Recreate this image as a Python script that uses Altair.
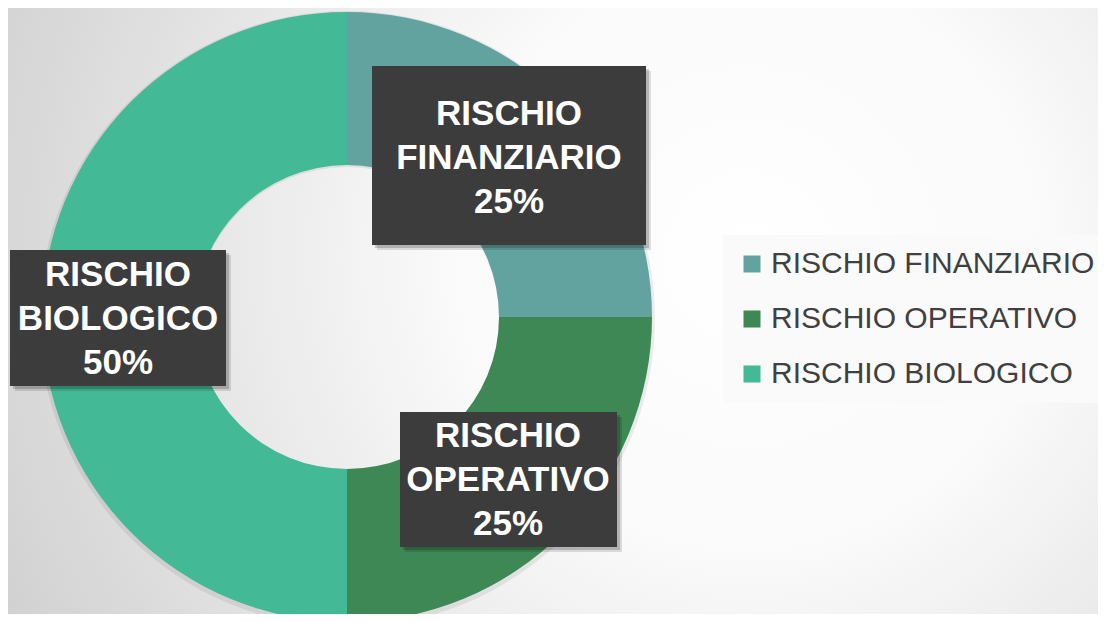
import altair as alt
import pandas as pd

# ---- data ----
categories = ["RISCHIO FINANZIARIO", "RISCHIO OPERATIVO", "RISCHIO BIOLOGICO"]
shares = [25, 25, 50]
order = [0, 1, 2]
colors = ["#62A39F", "#3E8855", "#43B995"]

df = pd.DataFrame({"categoria": categories, "quota": shares, "ordine": order})

# ---- layout ----
W, H = 1090, 606
CX, CY = 339, 309
R_OUT, R_IN = 305, 152

# label boxes (x1, y1, x2, y2) and centre of first text line, in chart pixels
boxes = {
    "RISCHIO FINANZIARIO": ((364, 58, 638, 237), (501, 106)),
    "RISCHIO OPERATIVO": ((392, 404, 609, 539), (500, 428)),
    "RISCHIO BIOLOGICO": ((2, 242, 218, 378), (110, 267)),
}

color_scale = alt.Scale(domain=categories, range=colors)

bg_gradient = {
    "gradient": "radial",
    "x1": 0.68, "y1": 0.45, "r1": 0,
    "x2": 0.68, "y2": 0.45, "r2": 0.78,
    "stops": [
        {"offset": 0, "color": "#ffffff"},
        {"offset": 0.35, "color": "#fafafa"},
        {"offset": 1, "color": "#cfcfcf"},
    ],
}

bg = alt.Chart(alt.Data(values=[{"k": 1}])).mark_rect(color=bg_gradient).encode(
    x=alt.value(0), x2=alt.value(W), y=alt.value(0), y2=alt.value(H)
)

base = alt.Chart(df).encode(
    theta=alt.Theta("quota:Q", stack=True),
    order=alt.Order("ordine:Q"),
    x=alt.value(CX),
    y=alt.value(CY),
)

donut_shadow = base.mark_arc(
    innerRadius=R_IN, outerRadius=R_OUT + 3, color="#000000", opacity=0.07
).encode(y=alt.value(CY + 2))

donut = base.mark_arc(innerRadius=R_IN, outerRadius=R_OUT).encode(
    color=alt.Color(
        "categoria:N",
        scale=color_scale,
        legend=alt.Legend(
            title=None,
            orient="none",
            legendX=715,
            legendY=227,
            symbolType="square",
            symbolSize=289,
            symbolStrokeWidth=0,
            symbolOpacity=1,
            labelFont="Liberation Sans",
            labelFontSize=30,
            labelColor="#404040",
            labelOffset=4,
            labelLimit=600,
            rowPadding=25,
            padding=14,
            fillColor="#fafafa",
        ),
    )
)

layers = [bg, donut_shadow, donut]

for cat, ((x1, y1, x2, y2), (tx, ty)) in boxes.items():
    src = (
        alt.Chart(df)
        .transform_joinaggregate(totale="sum(quota)")
        .transform_filter(alt.datum.categoria == cat)
        .transform_calculate(
            testo="replace(datum.categoria, ' ', '\\n') + '\\n' + format(datum.quota / datum.totale, '.0%')"
        )
    )
    sh1 = src.mark_rect(color="#000000", opacity=0.12).encode(
        x=alt.value(x1 + 5), x2=alt.value(x2 + 5), y=alt.value(y1 + 5), y2=alt.value(y2 + 5)
    )
    sh2 = src.mark_rect(color="#000000", opacity=0.18).encode(
        x=alt.value(x1 + 3), x2=alt.value(x2 + 3), y=alt.value(y1 + 3), y2=alt.value(y2 + 3)
    )
    box = src.mark_rect(color="#3c3c3c").encode(
        x=alt.value(x1), x2=alt.value(x2), y=alt.value(y1), y2=alt.value(y2)
    )
    txt = src.mark_text(
        font="Liberation Sans",
        fontSize=35,
        fontWeight="bold",
        color="#ffffff",
        lineBreak="\n",
        lineHeight=44,
        align="center",
        baseline="middle",
    ).encode(x=alt.value(tx), y=alt.value(ty), text="testo:N")
    layers += [sh1, sh2, box, txt]

chart = (
    alt.layer(*layers)
    .properties(width=W, height=H, autosize="none", padding=0, background="#ffffff")
    .configure_view(stroke=None)
)

chart.save("out.html", embed_options={"renderer": "svg", "actions": False})
